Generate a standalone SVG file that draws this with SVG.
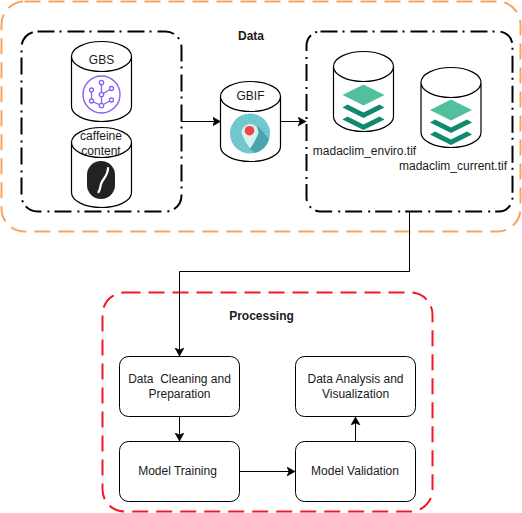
<svg xmlns="http://www.w3.org/2000/svg" width="522" height="513" viewBox="0 0 522 513">
<style>
text{font-family:"Liberation Sans",Arial,sans-serif;font-size:12px;fill:#1a1a1a;text-anchor:middle;white-space:pre}
.b{font-weight:bold}
.cyl{fill:#fff;stroke:#000;stroke-width:1.200}
.grp{fill:none;stroke:#000;stroke-width:2;stroke-dasharray:17 5 2 6}
.box{fill:#fff;stroke:#000;stroke-width:1}
.con{fill:none;stroke:#000;stroke-width:1;marker-end:url(#a)}
.lg{fill:#52c09f}
.dg{fill:#0f8a70}
</style>
<defs>
<marker id="a" markerUnits="userSpaceOnUse" markerWidth="9" markerHeight="10" refX="8" refY="4.5" orient="auto"><path d="M0 0L8 4.5L0 9L2 4.5Z" fill="#000" stroke="#000" stroke-width=".6"/></marker>
<path id="c" d="M0 15V65A30 15 0 0 0 60 65V15A30 15 0 0 0 0 15A30 15 0 0 0 60 15"/>
<g id="s"><path class="lg" d="M30 0L51 10.500L30 21L9 10.500Z"/><path class="dg" d="M14 20L30 28L46 20L51 23L30 33.500L9 23Z"/><path class="dg" d="M14 32L30 40L46 32L51 35L30 45.500L9 35Z"/></g>
</defs>
<rect id="data-frame" x="1.500" y="1.500" width="519" height="230" rx="23" fill="none" stroke="#f9a35f" stroke-width="2" stroke-dasharray="16 8"/>
<rect id="processing-frame" x="102.500" y="292.500" width="330" height="219" rx="22" fill="none" stroke="#f01a24" stroke-width="2" stroke-dasharray="16 8"/>
<g id="data-label"><text class="b" x="251" y="40">Data</text></g>
<g id="processing-label"><text class="b" x="261.500" y="320">Processing</text></g>
<g id="group-left"><rect class="grp" x="21.500" y="31.500" width="160" height="180" rx="16"/></g>
<g id="group-right"><rect class="grp" x="306.500" y="31.500" width="206" height="180" rx="14"/></g>
<g id="connectors">
<path class="con" d="M181.500 121.500H220.500"/>
<path class="con" d="M280.500 121.500H306"/>
<path class="con" d="M409.500 212V271.500H179.500V356"/>
<path class="con" d="M179.500 416.500V441"/>
<path class="con" d="M239.500 471.500H295"/>
<path class="con" d="M355.500 441.500V417"/>
</g>
<g id="gbs"><use href="#c" class="cyl" x="71.500" y="41.500"/><text x="101.500" y="64">GBS</text>
<g transform="translate(101.500 94.500)" fill="none" stroke="#8b5cf6" stroke-width="1.300"><circle r="18.500" stroke-width="1.400"/><path d="M0 -12V11M0 0L10 -6M0 11L-10 6.500V-4.500M0 11L10 5.500"/><g fill="#fff"><circle cy="-12" r="2.200"/><circle cy="0" r="2.200"/><circle cy="11" r="2.200"/><circle cx="-10" cy="-4.500" r="2"/><circle cx="-10" cy="6.500" r="2"/><circle cx="10" cy="-6" r="2"/><circle cx="10" cy="5.500" r="2"/></g></g></g>
<g id="caffeine"><use href="#c" class="cyl" x="71.500" y="127.500"/><text x="101" y="140">caffeine</text><text x="101" y="155">content</text>
<rect x="87" y="161" width="28" height="38" rx="14" fill="#222"/><path d="M108 168C108 176 103 178 101 184C100 188 100 190 98.500 192" fill="none" stroke="#fff" stroke-width="2.200" stroke-linecap="round"/></g>
<g id="gbif"><use href="#c" class="cyl" x="220.500" y="81.500"/><text x="250.500" y="100">GBIF</text>
<circle cx="250" cy="133.500" r="20" fill="#6cc5cc"/><circle cx="250" cy="133.500" r="14" fill="none" stroke="#7dcdd3" stroke-width="11" stroke-dasharray="1 2"/><path d="M250 149L258 126L269 139A20 20 0 0 1 255 153Z" fill="#4aa3ad"/><path d="M250 124A8.500 8.500 0 0 1 258.500 133Q255.500 141 250 148.500Q244.500 141 241.500 133A8.500 8.500 0 0 1 250 124Z" fill="#d6f1f2"/><circle cx="249.500" cy="130.700" r="4.800" fill="#ef4444"/></g>
<g id="enviro"><use href="#c" class="cyl" x="333.500" y="51.500"/><use href="#s" x="333.500" y="84.500"/><text x="364.500" y="155">madaclim_enviro.tif</text></g>
<g id="current"><use href="#c" class="cyl" x="421" y="67.500"/><use href="#s" x="421" y="99.500"/><text x="453" y="170">madaclim_current.tif</text></g>
<g id="cleaning"><rect class="box" x="119.500" y="356.500" width="120" height="60" rx="9"/><text x="179.500" y="383">Data  Cleaning and</text><text x="179.500" y="398">Preparation</text></g>
<g id="analysis"><rect class="box" x="295.500" y="356.500" width="120" height="60" rx="9"/><text x="355.500" y="383">Data Analysis and</text><text x="355.500" y="398">Visualization</text></g>
<g id="training"><rect class="box" x="119.500" y="441.500" width="120" height="60" rx="9"/><text x="177.500" y="475">Model Training</text></g>
<g id="validation"><rect class="box" x="295.500" y="441.500" width="120" height="60" rx="9"/><text x="355" y="475">Model Validation</text></g>
</svg>
